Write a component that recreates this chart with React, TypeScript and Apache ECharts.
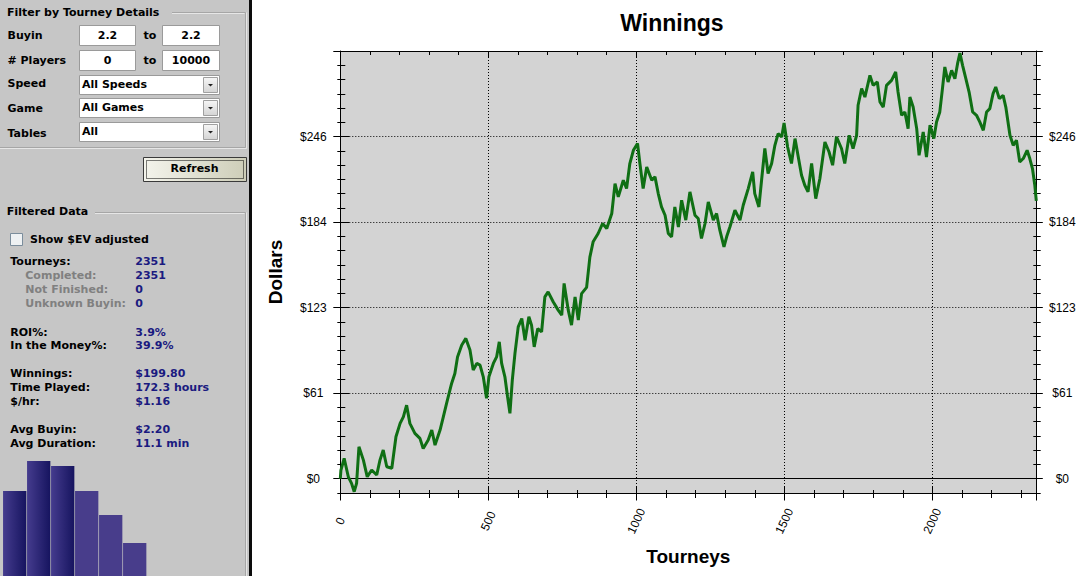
import React, { useEffect, useRef } from "react";
import * as echarts from "echarts";

// ---- Winnings line (tourney index, cumulative dollars) ----
const tourneyIdx = [0,2,13,27,38,47,55,63,78,91,106,123,134,145,157,174,188,202,213,224,235,252,269,280,297,309,320,337,348,359,376,387,396,410,424,438,449,461,472,483,494,502,517,528,537,545,556,565,573,581,590,601,613,624,637,646,655,667,680,691,702,719,736,748,756,770,781,793,804,815,832,843,854,871,886,900,917,928,939,956,967,978,990,1004,1012,1023,1035,1052,1063,1074,1085,1097,1108,1119,1130,1142,1153,1167,1181,1198,1209,1220,1232,1243,1260,1271,1282,1296,1305,1316,1333,1350,1361,1378,1393,1400,1414,1423,1434,1445,1457,1468,1479,1491,1499,1511,1524,1536,1547,1558,1569,1580,1592,1606,1620,1637,1651,1663,1676,1693,1704,1719,1732,1744,1749,1761,1772,1789,1800,1814,1823,1834,1845,1862,1876,1884,1896,1907,1918,1924,1935,1947,1955,1969,1980,1992,2005,2014,2025,2034,2042,2053,2065,2076,2085,2093,2102,2113,2124,2136,2149,2160,2172,2183,2194,2205,2214,2226,2239,2248,2262,2273,2284,2295,2307,2320,2329,2338,2346,2351];
const dollars = [0,6,14.7,1.4,-3.3,-9.3,-3.3,23,13.4,1.4,6.3,2.7,13.4,20.6,8.6,7.5,30.2,39.8,44.5,52.9,39.8,32.6,29,21.8,27.8,35,24.2,35,44.5,54.2,68.5,75.7,87.6,96,100.9,92.5,78.1,82.9,81.7,73.3,57.8,73.3,82.9,87.6,98.4,82.9,73.3,58.9,47,70.9,90.1,109.2,115.2,99.6,116.4,110.4,94.8,108,105.6,130.7,134.3,127.2,121.2,117.6,140.4,121.2,110.4,130.7,114,133.1,137.6,159.3,170.3,176.3,183.5,179.9,190.7,212.2,202.6,214.6,208.6,226.6,236.1,241,226.6,208.6,224.1,214.6,217,205,195.4,189.4,176.3,173.9,195.4,181,200.2,185.9,206.2,189.4,187.1,172.7,183.5,199,185.9,190.7,178.7,166.7,173.9,181,193,185.9,196.6,208.6,220.6,205,195.4,214.6,237.4,219.4,226.6,239.7,248.1,245.7,255.7,238.5,226.6,244.5,231.3,218.2,211,206.2,226.6,201.4,215.8,242.1,234.9,225.4,245.7,237.4,226.6,246.9,237.4,246.9,268.5,280.5,274.4,290,282.8,285.2,270.8,267.2,282.8,286.4,292.4,278,261.3,263.7,251.7,274.4,267.2,251.7,232.5,249.3,231.3,254.1,244.5,256.5,263.7,280.5,296,285.2,293.6,287.6,298.4,306,297.2,287.6,278,263.7,261.3,256.5,250.5,263.7,266.1,276.9,281.6,273.3,275.6,267.2,246.9,239.7,243.3,227.7,230.2,236.1,230.2,223,211,199.8];

// ---- axis tick labels ----
const yTickValues = [0, 61.5, 123, 184.5, 246];
const yTickLabels = ["$0", "$61", "$123", "$184", "$246"];
const xTickValues = [0, 500, 1000, 1500, 2000];
const xTickLabels = ["0", "500", "1000", "1500", "2000"];

// ---- small histogram in the side panel ----
const histCategories = ["1", "2", "3", "4", "5", "6"];
const histValues = [85, 115, 110, 85, 61, 33];

// ---- side panel texts ----
const filterTitle = "Filter by Tourney Details";
const filterLabels = ["Buyin", "# Players", "Speed", "Game", "Tables"];
const buyinRange = ["2.2", "2.2"];
const playersRange = ["0", "10000"];
const dropdownValues = ["All Speeds", "All Games", "All"];
const refreshLabel = "Refresh";
const dataTitle = "Filtered Data";
const checkboxLabel = "Show $EV adjusted";
const statLabels = ["Tourneys:", "Completed:", "Not Finished:", "Unknown Buyin:", "ROI%:", "In the Money%:", "Winnings:", "Time Played:", "$/hr:", "Avg Buyin:", "Avg Duration:"];
const statValues = ["2351", "2351", "0", "0", "3.9%", "39.9%", "$199.80", "172.3 hours", "$1.16", "$2.20", "11.1 min"];

const X_MAX = 2351;
const Y_MIN = -10.25;
const Y_MAX = 307.5;
const Y_MINOR = 10.25;
const Y_MAJOR = 61.5;

const labelFor = (vals: number[], labels: string[]) => (v: number) => {
  const i = vals.findIndex((t) => Math.abs(t - v) < 1e-6);
  return i >= 0 ? labels[i] : "";
};

const AX_FONT = "Liberation Sans";
const PANEL_FONT = 'bold 11px "DejaVu Sans"';

function tick(len: number, inside: boolean) {
  return { show: true, inside, length: len, lineStyle: { color: "#000", width: 1 } };
}

function xAx(grid: number, pos: string, interval: number, len: number, inside: boolean, extra: any = {}) {
  return {
    type: "value", gridIndex: grid, position: pos, min: 0, max: X_MAX, interval,
    axisLine: { show: false, onZero: false },
    axisTick: tick(len, inside),
    axisLabel: { show: false },
    splitLine: { show: false },
    ...extra,
  };
}

function yAx(grid: number, pos: string, min: number, interval: number, len: number, inside: boolean, extra: any = {}) {
  return {
    type: "value", gridIndex: grid, position: pos, min, max: Y_MAX, interval,
    axisLine: { show: false, onZero: false },
    axisTick: tick(len, inside),
    axisLabel: { show: false },
    splitLine: { show: false },
    ...extra,
  };
}

function buildPanel(): any[] {
  const G: any[] = [];
  const text = (x: number, baseline: number, t: string, fill = "#000", align = "left") =>
    G.push({
      type: "text", x, y: baseline - 4,
      style: { text: t, fill, font: PANEL_FONT, align, textAlign: align, verticalAlign: "middle", textVerticalAlign: "middle" },
    });
  const line = (x1: number, y1: number, x2: number, y2: number, stroke: string) =>
    G.push({ type: "line", shape: { x1, y1, x2, y2 }, style: { stroke, lineWidth: 1 } });
  const rect = (x: number, y: number, w: number, h: number, style: any) =>
    G.push({ type: "rect", shape: { x, y, width: w, height: h }, style });

  rect(0, 0, 249, 576, { fill: "#c6c6c6" });
  rect(249, 0, 3, 576, { fill: "#0c0c0c" });

  // group box 1
  line(172, 12.5, 245.5, 12.5, "#a6a6a6");
  line(172, 13.5, 244.5, 13.5, "#e6e6e6");
  line(245.5, 12.5, 245.5, 147.5, "#a6a6a6");
  line(246.5, 12.5, 246.5, 148.5, "#e6e6e6");
  line(0, 147.5, 245.5, 147.5, "#a6a6a6");
  line(0, 148.5, 246.5, 148.5, "#e6e6e6");
  // group box 2
  line(95, 212.5, 245.5, 212.5, "#a6a6a6");
  line(95, 213.5, 244.5, 213.5, "#e6e6e6");
  line(245.5, 212.5, 245.5, 576, "#a6a6a6");
  line(246.5, 212.5, 246.5, 576, "#e6e6e6");

  text(7, 16, filterTitle);
  const labelBaselines = [39.3, 64, 87.7, 112.3, 137.3];
  filterLabels.forEach((l, i) => text(7.5, labelBaselines[i], l));

  // inputs
  const inputStyle = { fill: "#fff", stroke: "#9a9a9a", lineWidth: 1 };
  rect(79.5, 25.5, 56, 20, inputStyle);
  rect(162.5, 25.5, 57, 20, inputStyle);
  rect(79.5, 50.5, 56, 20, inputStyle);
  rect(162.5, 50.5, 57, 20, inputStyle);
  text(107.5, 39.3, buyinRange[0], "#000", "center");
  text(150, 39.3, "to", "#000", "center");
  text(191, 39.3, buyinRange[1], "#000", "center");
  text(107.5, 64, playersRange[0], "#000", "center");
  text(150, 64, "to", "#000", "center");
  text(191, 64, playersRange[1], "#000", "center");

  // dropdowns
  const ddTops = [75.5, 98.5, 122.5];
  dropdownValues.forEach((v, i) => {
    const y = ddTops[i];
    rect(79.5, y, 140, 19, inputStyle);
    rect(203.5, y + 2, 14, 15, {
      fill: new echarts.graphic.LinearGradient(0, 0, 0, 1, [
        { offset: 0, color: "#f6f6f6" },
        { offset: 1, color: "#d4d4d4" },
      ]),
      stroke: "#a0a0a0", lineWidth: 1,
    });
    G.push({ type: "polygon", shape: { points: [[208, y + 8.5], [213, y + 8.5], [210.5, y + 11]] }, style: { fill: "#222" } });
    text(82, y + 12.5, v);
  });

  // refresh button
  rect(143.5, 157.5, 103, 24, {
    fill: new echarts.graphic.LinearGradient(0, 0, 1, 0, [
      { offset: 0, color: "#f4f4ec" },
      { offset: 1, color: "#cdcdb8" },
    ]),
    stroke: "#3a3a3a", lineWidth: 1,
  });
  rect(146.5, 160.5, 97, 18, { fill: "none", stroke: "#000", lineWidth: 1, lineDash: [1, 1] });
  text(194.5, 172.7, refreshLabel, "#000", "center");

  // filtered data
  text(6.7, 215.7, dataTitle);
  rect(10.5, 233.5, 12, 12, { fill: "#eef1f3", stroke: "#7b8d9c", lineWidth: 1 });
  text(30, 243.7, checkboxLabel);

  const statBaselines = [265.3, 279.3, 293.3, 307.3, 336, 349.3, 377.3, 391.7, 405.7, 433.3, 447.3];
  statLabels.forEach((l, i) => {
    const sub = i >= 1 && i <= 3;
    text(sub ? 25.3 : 10.3, statBaselines[i], l, sub ? "#808080" : "#000");
    text(135.3, statBaselines[i], statValues[i], "#1a1a80");
  });
  return G;
}

export default function App() {
  const ref = useRef<HTMLDivElement>(null);
  useEffect(() => {
    if (!ref.current) return;
    const chart = echarts.init(ref.current, undefined, { renderer: "svg" });
    const lineData = tourneyIdx.map((t, i) => [t, dollars[i]]);
    const dotted = { show: true, lineStyle: { color: "#000", type: [1, 2], width: 1 } };
    const axLabel = { fontFamily: AX_FONT, fontSize: 12, color: "#000" };
    const barGradient = new echarts.graphic.LinearGradient(0, 0, 1, 0, [
      { offset: 0, color: "#453c8e" },
      { offset: 1, color: "#16145f" },
    ]);

    const option: any = {
      animation: false,
      backgroundColor: "#fff",
      title: {
        text: "Winnings", left: 667, top: 6, textAlign: "center",
        textStyle: { fontFamily: AX_FONT, fontSize: 23, fontWeight: "bold", color: "#000" },
      },
      graphic: { elements: buildPanel() },
      grid: [
        { left: 340.3, right: 46.7, top: 51, bottom: 83, show: true, backgroundColor: "#d3d3d3", borderWidth: 0, containLabel: false },
        { left: 340.3, right: 46.7, top: 51, bottom: 97.3, show: false, containLabel: false },
        { left: 2.7, width: 144, top: 456, bottom: 0, show: false, containLabel: false },
      ],
      xAxis: [
        xAx(0, "bottom", 100, 5, false, {
          axisLine: { show: true, onZero: false, lineStyle: { color: "#000", width: 1 } },
          name: "Tourneys", nameLocation: "middle", nameGap: 54,
          nameTextStyle: { fontFamily: AX_FONT, fontSize: 19, fontWeight: "bold", color: "#000" },
        }),
        xAx(0, "bottom", 100, 3, true),
        xAx(0, "bottom", 500, 7.5, false, {
          axisLabel: { show: true, ...axLabel, rotate: 65, align: "center", verticalAlign: "middle", margin: 28, formatter: labelFor(xTickValues, xTickLabels) },
          splitLine: dotted,
        }),
        xAx(0, "bottom", 500, 6.5, true),
        xAx(0, "top", 100, 4, true, { axisLine: { show: true, onZero: false, lineStyle: { color: "#000", width: 1 } } }),
        xAx(0, "top", 500, 6.5, true),
        xAx(1, "bottom", 500, 0, false, {
          axisTick: { show: false },
          axisLine: { show: true, onZero: false, lineStyle: { color: "#000", width: 1 } },
        }),
        { type: "category", gridIndex: 2, data: histCategories, show: false },
      ],
      yAxis: [
        yAx(0, "left", Y_MIN, Y_MINOR, 3, false, {
          axisLine: { show: true, onZero: false, lineStyle: { color: "#000", width: 1 } },
          name: "Dollars", nameLocation: "middle", nameGap: 55, nameRotate: 90,
          nameTextStyle: { fontFamily: AX_FONT, fontSize: 19, fontWeight: "bold", color: "#000" },
        }),
        yAx(0, "left", Y_MIN, Y_MINOR, 5, true),
        yAx(0, "right", Y_MIN, Y_MINOR, 4.4, false, { axisLine: { show: true, onZero: false, lineStyle: { color: "#000", width: 1 } } }),
        yAx(0, "right", Y_MIN, Y_MINOR, 3, true),
        yAx(1, "left", 0, Y_MAJOR, 7, false, {
          axisLabel: { show: true, ...axLabel, align: "center", margin: 27, formatter: labelFor(yTickValues, yTickLabels) },
          splitLine: { ...dotted, showMinLine: false, showMaxLine: false },
        }),
        yAx(1, "left", 0, Y_MAJOR, 9, true),
        yAx(1, "right", 0, Y_MAJOR, 6.5, false, {
          axisLabel: { show: true, ...axLabel, align: "center", margin: 26, formatter: labelFor(yTickValues, yTickLabels) },
        }),
        yAx(1, "right", 0, Y_MAJOR, 6, true),
        { type: "value", gridIndex: 2, min: 0, max: 120, show: false, splitLine: { show: false } },
      ],
      series: [
        {
          type: "line", xAxisIndex: 0, yAxisIndex: 0, data: lineData,
          showSymbol: false, symbol: "none", clip: true,
          lineStyle: { color: "#0f6f14", width: 3 },
          z: 5,
        },
        {
          type: "bar", xAxisIndex: 7, yAxisIndex: 8, data: histValues,
          barWidth: 23.3,
          itemStyle: { color: (p: any) => (p.dataIndex < 3 ? barGradient : "#483d8b") },
          z: 5,
        },
      ],
    };
    chart.setOption(option);
    return () => chart.dispose();
  }, []);
  return <div ref={ref} style={{ position: "absolute", left: 0, top: 0, width: 1083, height: 576 }} />;
}
